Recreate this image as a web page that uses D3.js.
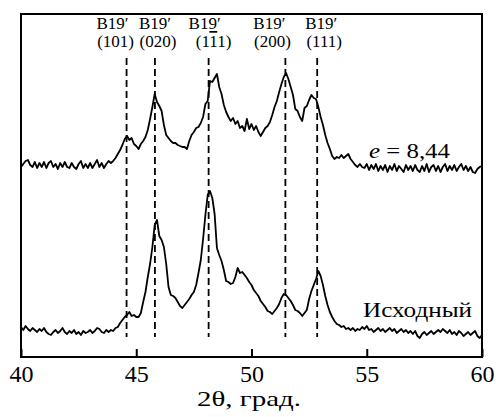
<!DOCTYPE html>
<html>
<head>
<meta charset="utf-8">
<script src="https://cdn.jsdelivr.net/npm/d3@7"></script>
<style>
  body { margin: 0; background: #fff; }
</style>
</head>
<body>
<svg id="chart" width="496" height="417"></svg>
<script>
// 2theta grid, 0.1 deg step
const twoTheta = d3.range(0, 201).map(i => +(40 + i * 0.1).toFixed(1))

// deformed sample, e = 8,44 (arbitrary units)
const deformed = [
  190, 193, 196, 197, 192, 190, 195, 189, 194, 190,
  195, 189, 194, 196, 190, 193, 188, 194, 190, 195,
  190, 189, 194, 190, 188, 193, 196, 189, 193, 189,
  194, 189, 193, 197, 190, 194, 189, 193, 196, 194,
  196, 199, 203, 207, 212, 218, 221, 217, 219, 213,
  211, 208, 213, 216, 220, 227, 238, 250, 263, 255,
  251, 246, 232, 222, 219, 216, 214, 214, 212, 211,
  210, 210, 208, 216, 222, 225, 229, 230, 234, 240,
  253, 256, 276, 275, 279, 283, 270, 263, 252, 245,
  240, 236, 239, 233, 236, 229, 231, 226, 238, 228,
  233, 227, 231, 225, 221, 225, 229, 231, 235, 242,
  250, 256, 265, 273, 280, 284, 278, 270, 262, 248,
  246, 240, 236, 249, 251, 257, 262, 259, 258, 250,
  240, 232, 222, 214, 208, 201, 198, 200, 199, 202,
  199, 201, 203, 198, 195, 192, 190, 193, 190, 189,
  193, 187, 192, 188, 193, 186, 191, 187, 192, 185,
  191, 187, 193, 186, 191, 188, 185, 192, 187, 191,
  186, 192, 187, 185, 191, 186, 193, 185, 190, 192,
  186, 191, 185, 190, 193, 186, 191, 187, 192, 186,
  190, 193, 187, 191, 186, 190, 185, 184, 188, 190,
  191
]

// initial state
const initial = [
  30, 27, 31, 28, 26, 29, 27, 25, 28, 26,
  29, 25, 23, 22, 25, 27, 24, 26, 29, 25,
  23, 26, 24, 27, 23, 25, 22, 26, 24, 25,
  27, 24, 26, 29, 28, 25, 24, 27, 25, 27,
  26, 29, 30, 34, 37, 40, 42, 45, 41, 42,
  40, 40, 44, 55, 65, 80, 93, 110, 132, 137,
  121, 117, 110, 93, 70, 62, 61, 59, 55, 51,
  49, 52, 55, 58, 62, 65, 72, 84, 97, 118,
  142, 162, 166, 159, 143, 109, 102, 96, 87, 76,
  75, 73, 74, 80, 89, 84, 85, 82, 79, 75,
  72, 67, 64, 61, 56, 53, 50, 46, 45, 43,
  46, 49, 53, 59, 63, 62, 59, 56, 52, 47,
  46, 44, 41, 44, 47, 58, 66, 72, 78, 86,
  81, 72, 61, 52, 45, 40, 36, 33, 32, 30,
  31, 28, 29, 27, 29, 26, 28, 27, 30, 28,
  31, 27, 28, 25, 27, 29, 26, 28, 25, 27,
  29, 26, 28, 24, 26, 28, 25, 27, 24, 26,
  23, 26, 21, 19, 23, 25, 22, 24, 26, 23,
  25, 27, 25, 28, 26, 24, 27, 23, 25, 22,
  26, 24, 21, 23, 25, 22, 24, 26, 21, 19,
  22
]

// B19' reflections
const peakPos = [44.58, 45.81, 48.14, 51.47, 52.85]
const peakPhase = ["B19′", "B19′", "B19′", "B19′", "B19′"]
const peakHkl = ["(101)", "(020)", "(11)", "(200)", "(111)"]

const xTicks = [40, 45, 50, 55, 60]

const serif = "'Liberation Serif', 'Times New Roman', serif"

let svg = d3.select("#chart")
let pLeft = 21, pRight = 482, pTop = 14, pBottom = 357

let x = d3.scaleLinear().domain([40, 60]).range([pLeft, pRight])
let y = d3.scaleLinear().domain([0, 343]).range([pBottom, pTop])

// dashed reflection lines
svg.selectAll("line.peak")
  .data(peakPos)
  .enter().append("line")
  .attr("class", "peak")
  .attr("x1", d => x(d)).attr("x2", d => x(d))
  .attr("y1", 58).attr("y2", 337)
  .attr("stroke", "#000")
  .attr("stroke-width", 1.8)
  .attr("stroke-dasharray", "7,4")

// reflection labels (nudged sideways so they don't collide)
let labelDx = [-14, 0, -4, -16, 4]
let labelAnchorX = peakPos.map((d, i) => x(d) + labelDx[i])

svg.selectAll("text.phase")
  .data(peakPhase)
  .enter().append("text")
  .attr("class", "phase")
  .attr("x", (d, i) => labelAnchorX[i])
  .attr("y", 29)
  .attr("text-anchor", "middle")
  .style("font-family", serif)
  .style("font-size", "17px")
  .text(d => d)

let hkl = svg.selectAll("text.hkl")
  .data(peakHkl)
  .enter().append("text")
  .attr("class", "hkl")
  .attr("x", (d, i) => labelAnchorX[i] + (i == 2 ? 9 : 3))
  .attr("y", 47)
  .attr("text-anchor", "middle")
  .style("font-family", serif)
  .style("font-size", "17px")
  .text(d => d)

// (1 -1 1): second index carries a bar
hkl.filter((d, i) => i == 2).text(null)
  .call(t => {
    t.append("tspan").text("(1")
    t.append("tspan").attr("text-decoration", "overline").text("1")
    t.append("tspan").text("1)")
  })

// spectra
let line = d3.line()
  .x((d, i) => x(twoTheta[i]))
  .y(d => y(d))

svg.append("path")
  .datum(deformed)
  .attr("d", line)
  .attr("fill", "none")
  .attr("stroke", "#000")
  .attr("stroke-width", 1.8)
  .attr("stroke-linejoin", "round")

svg.append("path")
  .datum(initial)
  .attr("d", line)
  .attr("fill", "none")
  .attr("stroke", "#000")
  .attr("stroke-width", 1.8)
  .attr("stroke-linejoin", "round")

// frame
svg.append("rect")
  .attr("x", pLeft).attr("y", pTop)
  .attr("width", pRight - pLeft).attr("height", pBottom - pTop)
  .attr("fill", "none")
  .attr("stroke", "#000")
  .attr("stroke-width", 2)

// bottom axis, ticks pointing in
let xAxis = svg.append("g")
  .attr("transform", `translate(0,${pBottom})`)
  .call(d3.axisBottom(x).tickValues(xTicks).tickSize(-8).tickPadding(8))
xAxis.select(".domain").remove()
xAxis.selectAll(".tick line").attr("stroke", "#000").attr("stroke-width", 2)
xAxis.selectAll(".tick text")
  .attr("fill", "#000")
  .style("font-family", serif)
  .style("font-size", "24px")

svg.append("text")
  .attr("x", 197)
  .attr("y", 406)
  .attr("textLength", 104)
  .attr("lengthAdjust", "spacingAndGlyphs")
  .style("font-family", serif)
  .style("font-size", "22px")
  .text("2θ, град.")

// curve names
let lbl = svg.append("text")
  .attr("x", 369).attr("y", 158)
  .attr("textLength", 81)
  .attr("lengthAdjust", "spacingAndGlyphs")
  .style("font-family", serif)
  .style("font-size", "22px")
lbl.append("tspan").attr("font-style", "italic").text("e")
lbl.append("tspan").text(" = 8,44")

svg.append("text")
  .attr("x", 363).attr("y", 317)
  .attr("textLength", 109)
  .attr("lengthAdjust", "spacingAndGlyphs")
  .style("font-family", serif)
  .style("font-size", "22px")
  .text("Исходный")
</script>
</body>
</html>
